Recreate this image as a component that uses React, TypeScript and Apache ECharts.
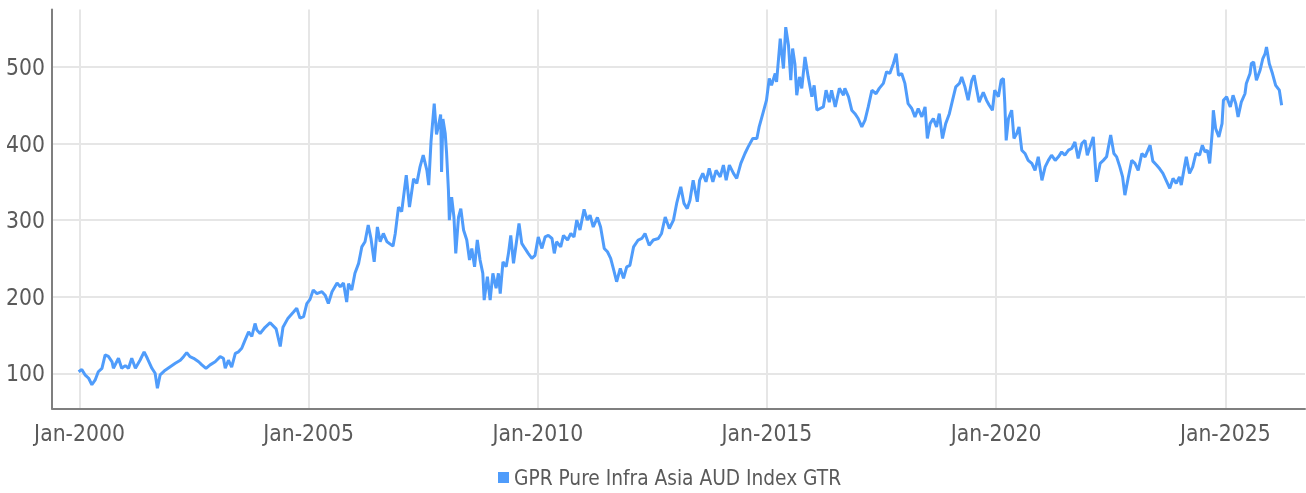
import React, { useEffect, useRef } from 'react';
import * as echarts from 'echarts';

const seriesName = 'GPR Pure Infra Asia AUD Index GTR';
const xTickYears = [2000, 2005, 2010, 2015, 2020, 2025];
const yTicks = [100, 200, 300, 400, 500];

// decimal years
const years = [
  1999.98, 2000.05, 2000.12, 2000.2, 2000.27, 2000.34, 2000.41, 2000.49, 2000.56, 2000.63,
  2000.71, 2000.74, 2000.85, 2000.92, 2001.0, 2001.07, 2001.14, 2001.22, 2001.32, 2001.41,
  2001.48, 2001.58, 2001.65, 2001.7, 2001.76, 2001.87, 2001.98, 2002.09, 2002.2, 2002.27,
  2002.34, 2002.41, 2002.49, 2002.6, 2002.67, 2002.76, 2002.85, 2002.96, 2003.07, 2003.14,
  2003.18, 2003.25, 2003.32, 2003.4, 2003.47, 2003.54, 2003.61, 2003.69, 2003.76, 2003.83,
  2003.87, 2003.94, 2004.05, 2004.16, 2004.29, 2004.38, 2004.44, 2004.55, 2004.67, 2004.74,
  2004.81, 2004.89, 2004.96, 2005.03, 2005.1, 2005.18, 2005.29, 2005.36, 2005.43, 2005.51,
  2005.62, 2005.69, 2005.76, 2005.83, 2005.87, 2005.94, 2006.01, 2006.09, 2006.16, 2006.23,
  2006.3, 2006.36, 2006.43, 2006.5, 2006.56, 2006.63, 2006.71, 2006.84, 2006.89, 2006.96,
  2007.03, 2007.13, 2007.2, 2007.29, 2007.36, 2007.43, 2007.5, 2007.58, 2007.62, 2007.67,
  2007.74, 2007.79, 2007.84, 2007.88, 2007.9, 2007.93, 2007.98, 2008.01, 2008.05, 2008.07,
  2008.12, 2008.17, 2008.21, 2008.27, 2008.32, 2008.38, 2008.45, 2008.51, 2008.56, 2008.62,
  2008.68, 2008.74, 2008.8, 2008.83, 2008.9, 2008.96, 2009.02, 2009.09, 2009.14, 2009.18,
  2009.24, 2009.31, 2009.36, 2009.41, 2009.47, 2009.54, 2009.59, 2009.65, 2009.72, 2009.79,
  2009.87, 2009.94, 2010.01, 2010.09, 2010.16, 2010.23, 2010.31, 2010.36, 2010.41, 2010.5,
  2010.56, 2010.65, 2010.72, 2010.79, 2010.85, 2010.92, 2011.01, 2011.08, 2011.14, 2011.21,
  2011.3, 2011.37, 2011.45, 2011.52, 2011.59, 2011.66, 2011.72, 2011.8, 2011.87, 2011.94,
  2012.01, 2012.09, 2012.19, 2012.27, 2012.34, 2012.43, 2012.52, 2012.63, 2012.7, 2012.78,
  2012.87, 2012.96, 2013.03, 2013.12, 2013.19, 2013.26, 2013.32, 2013.39, 2013.48, 2013.53,
  2013.6, 2013.67, 2013.74, 2013.82, 2013.89, 2013.98, 2014.05, 2014.11, 2014.18, 2014.27,
  2014.34, 2014.43, 2014.52, 2014.59, 2014.69, 2014.78, 2014.83, 2014.91, 2014.99, 2015.05,
  2015.1, 2015.18, 2015.21, 2015.29, 2015.36, 2015.41, 2015.47, 2015.52, 2015.56, 2015.61,
  2015.65, 2015.71, 2015.76, 2015.83, 2015.9, 2015.98, 2016.03, 2016.09, 2016.16, 2016.23,
  2016.29, 2016.36, 2016.41, 2016.49, 2016.58, 2016.67, 2016.7, 2016.78, 2016.85, 2016.92,
  2016.99, 2017.07, 2017.14, 2017.21, 2017.29, 2017.38, 2017.45, 2017.54, 2017.61, 2017.68,
  2017.76, 2017.82, 2017.87, 2017.94, 2018.01, 2018.08, 2018.16, 2018.23, 2018.3, 2018.38,
  2018.45, 2018.5, 2018.56, 2018.63, 2018.7, 2018.76, 2018.83, 2018.9, 2018.98, 2019.05,
  2019.12, 2019.2, 2019.25, 2019.32, 2019.39, 2019.47, 2019.52, 2019.58, 2019.63, 2019.72,
  2019.79, 2019.85, 2019.92, 2019.97, 2020.05, 2020.11, 2020.16, 2020.19, 2020.22, 2020.27,
  2020.34, 2020.39, 2020.45, 2020.5, 2020.56, 2020.63, 2020.7, 2020.78, 2020.85, 2020.92,
  2021.0, 2021.07, 2021.14, 2021.21, 2021.29, 2021.36, 2021.43, 2021.5, 2021.58, 2021.65,
  2021.72, 2021.79, 2021.87, 2021.94, 2021.99, 2022.05, 2022.12, 2022.19, 2022.27, 2022.34,
  2022.41, 2022.5, 2022.57, 2022.63, 2022.7, 2022.76, 2022.81, 2022.88, 2022.96, 2023.03,
  2023.1, 2023.18, 2023.25, 2023.36, 2023.42, 2023.5, 2023.57, 2023.64, 2023.71, 2023.79,
  2023.86, 2023.93, 2024.0, 2024.04, 2024.11, 2024.15, 2024.22, 2024.29, 2024.36, 2024.44,
  2024.5, 2024.56, 2024.61, 2024.66, 2024.72, 2024.74, 2024.79, 2024.86, 2024.93, 2024.96,
  2025.03, 2025.11, 2025.17, 2025.23, 2025.28, 2025.35, 2025.43, 2025.46, 2025.54, 2025.57,
  2025.62, 2025.68, 2025.76, 2025.82, 2025.87, 2025.9, 2025.96, 2026.03, 2026.1, 2026.18,
  2026.23,
];

const values = [
  102, 105, 98, 93.5, 85, 91, 102, 106.5, 124, 122,
  115, 106.5, 119.6, 106.5, 110, 106.5, 119.6, 106.5, 117, 128,
  119.6, 106.5, 100, 80.4, 98, 104, 108.6, 113, 117, 121.7,
  127, 121.7, 119.6, 115, 111, 106.5, 111, 115, 121.7, 119.6,
  106.5, 117, 108, 126, 128, 132.6, 143, 154, 148, 165,
  156.5, 152, 160, 166, 158, 135, 160, 172, 180, 185,
  172, 174, 191, 196.5, 208.7, 204, 206.5, 202, 191, 206.5,
  218, 213, 218, 193, 217, 208.7, 230.5, 243.5, 265, 271.7,
  293.5, 276, 245.6, 291, 271.7, 282.6, 271.7, 266, 282.6, 317,
  311, 358.7, 317, 354, 348, 369.5, 384.8, 365, 345.7, 402.6,
  452, 412, 425, 438, 363, 432, 413, 387, 339, 300,
  330, 304, 256.6, 304, 315, 287, 274, 248, 263, 239,
  274, 248, 230.5, 195.6, 226, 195.6, 230.5, 211, 230.5, 204,
  245.6, 239, 256.6, 280, 243.5, 274, 295.7, 269.6, 263, 256.6,
  250, 254, 278, 263, 278, 280, 276, 256.6, 271.7, 265,
  280, 274, 282.6, 278, 300, 287, 314, 300, 306.5, 291,
  303.5, 291, 263, 258.7, 250, 234, 219.5, 237, 224, 239,
  241, 265, 274, 276, 282.6, 267, 274, 276, 282.6, 304,
  289, 300, 321.8, 343.5, 321.8, 315, 326, 352, 324, 352,
  361, 350, 367.5, 350, 365, 356.5, 371.8, 352, 371.8, 361,
  354.4, 374, 387, 395.6, 406.6, 406.6, 421.7, 439, 456.6, 484.9,
  476, 491.4, 480.4, 537, 498, 552, 528, 482.6, 524, 504,
  463, 487, 472, 513, 487, 461, 476, 443.5, 445.7, 447.8,
  469.6, 454, 469.6, 447.8, 472, 463, 472, 461, 443.5, 439,
  432.7, 421.7, 430.5, 447.8, 469.6, 465, 472, 478.5, 493.7, 491.4,
  504.5, 517.5, 489, 491.4, 478.5, 452, 445.7, 434.8, 445.7, 434.8,
  447.8, 406.6, 426, 432.7, 421.7, 439, 406.6, 426, 439, 456.6,
  474, 478.5, 487, 474, 456.6, 482.6, 489, 469.6, 454, 467,
  456.6, 450, 443.5, 469.6, 461, 482.6, 484.9, 452, 404, 432.7,
  443.5, 406.6, 413, 421.7, 391.3, 387, 378, 374, 365, 382.6,
  352, 369.5, 378, 384.8, 378, 382.6, 389, 384.8, 391.3, 393.5,
  402, 380.5, 400, 404, 384.8, 395.6, 408.7, 350, 374, 378,
  382.6, 411, 387, 382.6, 369.5, 356.5, 332.6, 354.4, 378, 374,
  365, 387, 382.6, 397.8, 377, 372, 367, 361, 352, 341.4,
  354.4, 348, 356.5, 345.7, 369.5, 382.6, 361, 369.5, 387, 384.8,
  397.8, 389, 391.3, 374, 417.4, 443.5, 419.6, 408.7, 426, 456.6,
  461, 447.8, 463, 452, 434.8, 454, 465, 478.5, 491.4, 504.5,
  506.6, 482.6, 495.7, 511, 517.5, 526, 504.5, 491.4, 476, 469.6,
  450,
];

export default function App() {
  const ref = useRef<HTMLDivElement>(null);
  useEffect(() => {
    document.body.style.margin = '0';
    const chart = echarts.init(ref.current as HTMLDivElement, null, { renderer: 'svg' });
    const font = '"DejaVu Sans Condensed", "Liberation Sans Narrow", sans-serif';
    const textColor = '#5a5a5a';
    chart.setOption({
      animation: false,
      grid: { left: 52, right: 1, top: 9.5, bottom: 84.5 },
      legend: {
        left: 498,
        top: 467,
        padding: 0,
        icon: 'rect',
        itemWidth: 11,
        itemHeight: 11,
        itemGap: 10,
        textStyle: { fontSize: 20.7, color: textColor, fontFamily: font },
        data: [seriesName],
      },
      xAxis: {
        type: 'value',
        min: 1999.4,
        max: 2026.74,
        axisLine: { show: true, onZero: false, lineStyle: { color: '#7f7f7f', width: 2 } },
        axisTick: { show: false, customValues: xTickYears },
        axisLabel: {
          customValues: xTickYears,
          formatter: (v: number) => `Jan-${Math.round(v)}`,
          color: textColor,
          fontFamily: font,
          fontSize: 22.7,
          margin: 13,
        },
        splitLine: { show: true, lineStyle: { color: '#e6e6e6', width: 2 } },
      },
      yAxis: {
        type: 'value',
        min: 54,
        max: 575,
        axisLine: { show: true, lineStyle: { color: '#7f7f7f', width: 2 } },
        axisTick: { show: false, customValues: yTicks },
        axisLabel: {
          customValues: yTicks,
          color: textColor,
          fontFamily: font,
          fontSize: 22.7,
          margin: 7,
        },
        splitLine: { show: true, lineStyle: { color: '#e6e6e6', width: 2 } },
      },
      series: [
        {
          type: 'line',
          name: seriesName,
          data: years.map((y, i) => [y, values[i]]),
          symbol: 'none',
          showSymbol: false,
          lineStyle: { color: '#4f9cfb', width: 3 },
          itemStyle: { color: '#4f9cfb' },
        },
      ],
    });
    return () => chart.dispose();
  }, []);
  return <div ref={ref} style={{ position: 'fixed', left: 0, top: 0, width: 1306, height: 493 }} />;
}
